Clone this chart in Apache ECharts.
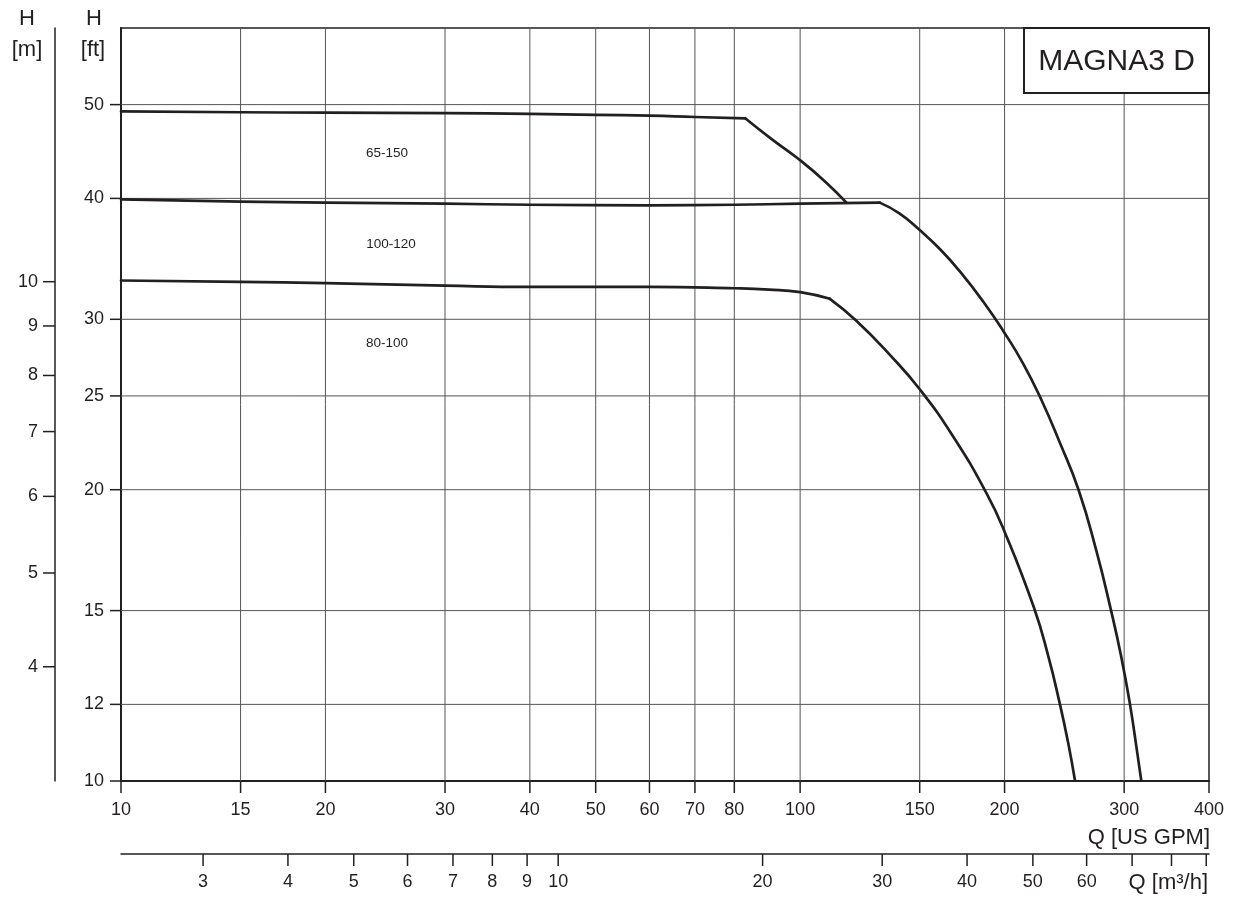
<!DOCTYPE html>
<html>
<head>
<meta charset="utf-8">
<script src="https://cdn.jsdelivr.net/npm/echarts@6/dist/echarts.min.js"></script>
<style>
html,body{margin:0;padding:0;background:#fff;}
#chart{width:1238px;height:901px;}
</style>
</head>
<body>
<div id="chart"></div>
<script>
// ---------- DATA ----------
const seriesNames = ['65-150', '100-120', '80-100'];
// [Q US GPM, H ft]
const curve65_150 = [
  [10, 49.2], [15, 49.1], [20, 49.05], [30, 49.0], [40, 48.9], [50, 48.8],
  [60, 48.7], [70, 48.55], [83, 48.4], [91, 46.0], [100, 43.8], [109, 41.6], [117, 39.6]
];
const curve100_120 = [
  [10, 39.9], [15, 39.7], [20, 39.6], [30, 39.5], [40, 39.4], [60, 39.35],
  [80, 39.4], [100, 39.5], [131, 39.6], [140, 38.6], [150, 37.1], [161, 35.4],
  [172, 33.6], [186, 31.3], [199, 29.2], [213, 27.0], [227, 24.7], [241, 22.4],
  [257, 20.0], [273, 17.3], [287, 15.0], [297, 13.45], [306, 12.0], [313, 10.8], [318, 10.0]
];
const curve80_100 = [
  [10, 32.9], [15, 32.8], [20, 32.7], [30, 32.5], [40, 32.4], [60, 32.4],
  [80, 32.3], [90, 32.2], [100, 32.0], [110.6, 31.5], [121, 29.9], [136, 27.5],
  [150, 25.4], [168, 22.7], [188, 19.85], [200, 18.1], [221, 15.1], [232, 13.45],
  [241, 12.05], [248, 10.97], [254, 10.0]
];
// flow where each curve leaves its flat (speed-limited) part
const kinkQ = [83, 131, 110.6];
const qGpmTicks  = [10, 15, 20, 30, 40, 50, 60, 70, 80, 100, 150, 200, 300, 400];
const qGpmLabels = ['10','15','20','30','40','50','60','70','80','100','150','200','300','400'];
const hFtTicks   = [10, 12, 15, 20, 25, 30, 40, 50];
const hFtLabels  = ['10','12','15','20','25','30','40','50'];
const hMTicks    = [4, 5, 6, 7, 8, 9, 10];
const hMLabels   = ['4','5','6','7','8','9','10'];
const qM3hTicks  = [3, 4, 5, 6, 7, 8, 9, 10, 20, 30, 40, 50, 60, 70, 80, 90];
const qM3hLabels = ['3','4','5','6','7','8','9','10','20','30','40','50','60','','',''];
const Q_MIN = 10, Q_MAX = 400, H_MIN = 10, H_MAX = 60;
const GPM_TO_M3H = 0.2271247, FT_TO_M = 0.3048;

// ---------- STYLE ----------
const INK = '#231f20';
const GRID = '#555555';
const FONT = 'Arial, "Liberation Sans", Helvetica, sans-serif';
const TICK_FONT = '18px ' + FONT;
const NAME_FONT = '22px ' + FONT;
const M_AXIS_OFFSET = 66;
const M3H_AXIS_OFFSET = 73;

const chart = echarts.init(document.getElementById('chart'), null, {renderer: 'canvas'});

function lineEl(x1, y1, x2, y2, stroke, w) {
  return {type: 'line', shape: {x1, y1, x2, y2}, style: {stroke, lineWidth: w, fill: null}, silent: true};
}
function textEl(text, x, y, align, font) {
  return {type: 'text', style: {text, x, y, align, verticalAlign: 'middle', font: font || TICK_FONT, fill: INK}, silent: true};
}

const curves = [curve65_150, curve100_120, curve80_100];
const curveSeries = [];
curves.forEach((d, i) => {
  const parts = [d.filter(p => p[0] <= kinkQ[i]), d.filter(p => p[0] >= kinkQ[i])];
  parts.forEach(part => {
    curveSeries.push({
      name: seriesNames[i], type: 'line', xAxisIndex: 0, yAxisIndex: 0, z: 5, silent: true,
      data: part, showSymbol: false, symbol: 'none', smooth: 0.5,
      lineStyle: {color: INK, width: 2.7, join: 'round', cap: 'round'}
    });
  });
});

const option = {
  animation: false,
  backgroundColor: '#fff',
  grid: {left: 121, top: 28, right: 29, bottom: 120, show: true, borderColor: INK, borderWidth: 1.5, backgroundColor: 'transparent'},
  xAxis: [
    {type: 'log', logBase: 10, min: Q_MIN, max: Q_MAX, position: 'bottom',
     axisLine: {show: true, onZero: false, lineStyle: {color: INK, width: 2}},
     axisTick: {show: false}, axisLabel: {show: false}, splitLine: {show: false}},
    {type: 'log', logBase: 10, min: Q_MIN * GPM_TO_M3H, max: Q_MAX * GPM_TO_M3H, position: 'bottom', offset: M3H_AXIS_OFFSET,
     axisLine: {show: true, onZero: false, lineStyle: {color: INK, width: 1.5}},
     axisTick: {show: false}, axisLabel: {show: false}, splitLine: {show: false}}
  ],
  yAxis: [
    {type: 'log', logBase: 10, min: H_MIN, max: H_MAX, position: 'left',
     axisLine: {show: true, onZero: false, lineStyle: {color: INK, width: 2}},
     axisTick: {show: false}, axisLabel: {show: false}, splitLine: {show: false}},
    {type: 'log', logBase: 10, min: H_MIN * FT_TO_M, max: H_MAX * FT_TO_M, position: 'left', offset: M_AXIS_OFFSET,
     axisLine: {show: true, onZero: false, lineStyle: {color: INK, width: 1.5}},
     axisTick: {show: false}, axisLabel: {show: false}, splitLine: {show: false}}
  ],
  series: [
    // vertical grid lines, ticks and labels of Q [US GPM]
    {type: 'custom', xAxisIndex: 0, yAxisIndex: 0, z: 1, silent: true, clip: false,
     data: qGpmTicks.map(v => [v, H_MIN]),
     renderItem: function (params, api) {
       const v = api.value(0);
       const b = api.coord([v, H_MIN]);
       const t = api.coord([v, H_MAX]);
       const ch = [];
       if (v > Q_MIN && v < Q_MAX) ch.push(lineEl(b[0], t[1], b[0], b[1], GRID, 1));
       ch.push(lineEl(b[0], b[1], b[0], b[1] + 12, INK, 1.5));
       ch.push(textEl(qGpmLabels[params.dataIndex], b[0], b[1] + 29, 'center'));
       return {type: 'group', children: ch};
     }},
    // horizontal grid lines, ticks and labels of H [ft]
    {type: 'custom', xAxisIndex: 0, yAxisIndex: 0, z: 1, silent: true, clip: false,
     data: hFtTicks.map(v => [Q_MIN, v]),
     renderItem: function (params, api) {
       const v = api.value(1);
       const l = api.coord([Q_MIN, v]);
       const r = api.coord([Q_MAX, v]);
       const ch = [];
       if (v > H_MIN && v < H_MAX) ch.push(lineEl(l[0], l[1], r[0], l[1], GRID, 1));
       ch.push(lineEl(l[0] - 11, l[1], l[0], l[1], INK, 1.5));
       ch.push(textEl(hFtLabels[params.dataIndex], l[0] - 17, l[1], 'right'));
       return {type: 'group', children: ch};
     }},
    // H [m] ticks and labels
    {type: 'custom', xAxisIndex: 0, yAxisIndex: 1, z: 1, silent: true, clip: false,
     data: hMTicks.map(v => [Q_MIN, v]),
     renderItem: function (params, api) {
       const v = api.value(1);
       const p = api.coord([Q_MIN, v]);
       const ax = p[0] - M_AXIS_OFFSET;
       return {type: 'group', children: [
         lineEl(ax - 12, p[1], ax, p[1], INK, 1.5),
         textEl(hMLabels[params.dataIndex], ax - 17, p[1], 'right')
       ]};
     }},
    // Q [m3/h] ticks and labels
    {type: 'custom', xAxisIndex: 1, yAxisIndex: 0, z: 1, silent: true, clip: false,
     data: qM3hTicks.map(v => [v, H_MIN]),
     renderItem: function (params, api) {
       const v = api.value(0);
       const p = api.coord([v, H_MIN]);
       const ay = p[1] + M3H_AXIS_OFFSET;
       return {type: 'group', children: [
         lineEl(p[0], ay, p[0], ay + 12, INK, 1.5),
         textEl(qM3hLabels[params.dataIndex], p[0], ay + 28, 'center')
       ]};
     }},
    ...curveSeries
  ],
  graphic: [
    {type: 'rect', z: 100, shape: {x: 1024, y: 28, width: 185, height: 65}, style: {fill: '#fff', stroke: INK, lineWidth: 2}},
    {type: 'text', z: 101, style: {text: 'MAGNA3 D', x: 1116.5, y: 62, align: 'center', verticalAlign: 'middle', font: '30px ' + FONT, fill: INK}},
    {type: 'text', z: 101, style: {text: 'H', x: 27, y: 19, align: 'center', verticalAlign: 'middle', font: NAME_FONT, fill: INK}},
    {type: 'text', z: 101, style: {text: '[m]', x: 27, y: 50, align: 'center', verticalAlign: 'middle', font: NAME_FONT, fill: INK}},
    {type: 'text', z: 101, style: {text: 'H', x: 94, y: 19, align: 'center', verticalAlign: 'middle', font: NAME_FONT, fill: INK}},
    {type: 'text', z: 101, style: {text: '[ft]', x: 93, y: 50, align: 'center', verticalAlign: 'middle', font: NAME_FONT, fill: INK}},
    {type: 'text', z: 101, style: {text: 'Q [US GPM]', x: 1210, y: 838, align: 'right', verticalAlign: 'middle', font: NAME_FONT, fill: INK}},
    {type: 'text', z: 101, style: {text: 'Q [m³/h]', x: 1208, y: 883, align: 'right', verticalAlign: 'middle', font: NAME_FONT, fill: INK}},
    {type: 'text', z: 101, style: {text: seriesNames[0], x: 387, y: 153, align: 'center', verticalAlign: 'middle', font: '13.5px ' + FONT, fill: INK}},
    {type: 'text', z: 101, style: {text: seriesNames[1], x: 391, y: 244, align: 'center', verticalAlign: 'middle', font: '13.5px ' + FONT, fill: INK}},
    {type: 'text', z: 101, style: {text: seriesNames[2], x: 387, y: 343, align: 'center', verticalAlign: 'middle', font: '13.5px ' + FONT, fill: INK}}
  ]
};
chart.setOption(option);
</script>
</body>
</html>
